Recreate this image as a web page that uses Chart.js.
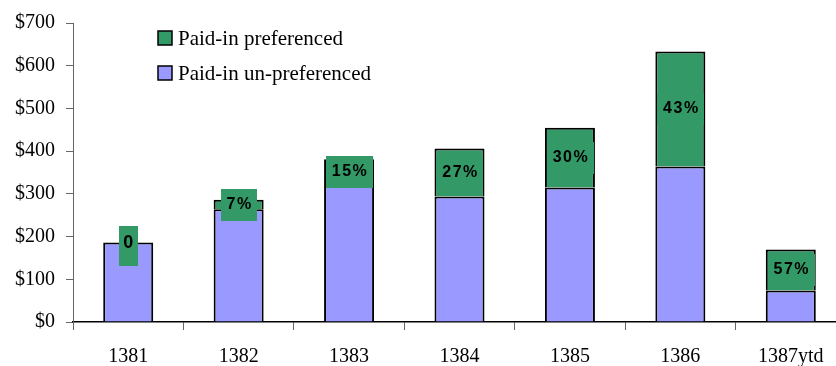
<!DOCTYPE html>
<html>
<head>
<meta charset="utf-8">
<script src="https://cdn.jsdelivr.net/npm/chart.js@4"></script>
<style>
  html, body { margin: 0; padding: 0; background: #fff; overflow: hidden; }
  #wrap { width: 850px; height: 366px; }
</style>
</head>
<body>
<div id="wrap"><canvas id="c" width="850" height="366"></canvas></div>
<script>
// Paid-in capital by year ($), split by preference status
const years = ['1381', '1382', '1383', '1384', '1385', '1386', '1387ytd'];
const unPreferenced = [186, 264, 323, 294, 315, 364, 74];
const preferenced = [0, 22, 58, 112, 140, 269, 96];
const shareLabels = ['0', '7%', '15%', '27%', '30%', '43%', '57%'];
const yTicks = [0, 100, 200, 300, 400, 500, 600, 700];

const PURPLE = '#9999FF';
const GREEN = '#339966';
const SERIF = '"Liberation Serif", "Times New Roman", serif';
const SANS = '"Liberation Sans", Arial, sans-serif';

// Share labels on green tags, centred on the preferenced segment
const shareLabelPlugin = {
  id: 'shareLabels',
  afterDatasetsDraw(chart) {
    const ctx = chart.ctx;
    const meta = chart.getDatasetMeta(1);
    ctx.save();
    ctx.textAlign = 'center';
    ctx.textBaseline = 'middle';
    meta.data.forEach((bar, i) => {
      const text = shareLabels[i];
      const single = text.length === 1;
      ctx.font = 'bold ' + (single ? 18 : 16) + 'px ' + SANS;
      if ('letterSpacing' in ctx) ctx.letterSpacing = single ? '0px' : '1.5px';
      const cx = bar.x;
      const cy = (bar.y + bar.base) / 2;
      const w = ctx.measureText(text).width + (single ? 9 : 10);
      const h = single ? 40 : 32;
      ctx.fillStyle = GREEN;
      ctx.fillRect(Math.round(cx - w / 2), Math.round(cy - h / 2 + (single ? 3 : 0)), Math.round(w), h);
      ctx.fillStyle = '#000';
      ctx.fillText(text, cx + (single ? 0 : 1), cy);
    });
    ctx.restore();
  }
};

// Legend drawn inside the plot, preferenced series listed first
const insideLegendPlugin = {
  id: 'insideLegend',
  afterDraw(chart) {
    const ctx = chart.ctx;
    const items = chart.data.datasets.slice().reverse();
    ctx.save();
    ctx.font = '21px ' + SERIF;
    ctx.textAlign = 'left';
    ctx.textBaseline = 'middle';
    items.forEach((ds, i) => {
      const y = 38 + i * 35;
      ctx.fillStyle = ds.backgroundColor;
      ctx.fillRect(158, y - 7, 14, 14);
      ctx.strokeStyle = '#000';
      ctx.lineWidth = 1.5;
      ctx.strokeRect(158, y - 7, 14, 14);
      ctx.fillStyle = '#000';
      ctx.fillText(ds.label, 178, y + 1);
    });
    ctx.restore();
  }
};

new Chart(document.getElementById('c'), {
  type: 'bar',
  data: {
    labels: years,
    datasets: [
      {
        label: 'Paid-in un-preferenced',
        data: unPreferenced,
        backgroundColor: PURPLE,
        borderColor: '#000',
        borderWidth: 2,
        borderSkipped: 'start'
      },
      {
        label: 'Paid-in preferenced',
        data: preferenced,
        backgroundColor: GREEN,
        borderColor: '#000',
        borderWidth: 2,
        borderSkipped: 'start'
      }
    ]
  },
  options: {
    responsive: false,
    animation: false,
    layout: { padding: { top: 22, left: 0, right: 4, bottom: 0 } },
    plugins: { legend: { display: false }, tooltip: { enabled: false } },
    datasets: { bar: { categoryPercentage: 1, barPercentage: 0.453 } },
    scales: {
      x: {
        stacked: true,
        afterFit(scale) { scale.height = 44; },
        grid: { drawOnChartArea: false, offset: true, tickLength: 8, color: '#666', lineWidth: 1 },
        border: { color: '#000', width: 1.5 },
        ticks: { color: '#000', font: { family: SERIF, size: 20 }, padding: 15, maxRotation: 0 }
      },
      y: {
        stacked: true,
        min: 0,
        max: 700,
        afterFit(scale) { scale.width = 73; },
        afterBuildTicks(scale) { scale.ticks = yTicks.map(v => ({ value: v })); },
        grid: { drawOnChartArea: false, tickLength: 7, color: '#666', lineWidth: 1 },
        border: { color: '#666', width: 1 },
        ticks: {
          color: '#000',
          font: { family: SERIF, size: 20 },
          padding: 11,
          callback: v => '$' + v
        }
      }
    }
  },
  plugins: [shareLabelPlugin, insideLegendPlugin]
});
</script>
</body>
</html>
